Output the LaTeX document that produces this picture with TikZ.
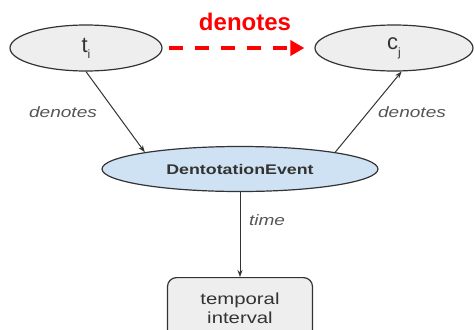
\documentclass[tikz,border=0pt]{standalone}
\usepackage{fontspec}
\setmainfont{Liberation Sans}
\usetikzlibrary{shapes.geometric,arrows.meta}
\definecolor{inkgrey}{HTML}{333333}
\definecolor{labelgrey}{HTML}{555555}
\definecolor{nodegrey}{HTML}{EEEEEE}
\definecolor{eventblue}{HTML}{CFE2F3}
\newcommand{\wide}[1]{\scalebox{1.27}[1]{#1}}
\begin{document}
\begin{tikzpicture}[x=1pt,y=-1pt,
  concept/.style={ellipse,draw=inkgrey,line width=1.2pt,fill=nodegrey,inner sep=0pt,text=inkgrey},
  rel/.style={draw=inkgrey,line width=1pt,-{Stealth[length=7pt,width=5pt]}},
  rellabel/.style={text=labelgrey,font=\fontsize{15}{17}\selectfont\itshape},
  bigarrow/.style={draw=red,line width=3.5pt,dash pattern=on 14pt off 12pt,-{Triangle[length=14pt,width=15pt]}}]
  \useasboundingbox (0,0) rectangle (475,330);

  % concept nodes
  \node[concept,minimum width=152pt,minimum height=46pt] (ti) at (86,48)
    {{\fontsize{22}{24}\selectfont t}\raisebox{-6pt}{\fontsize{12}{12}\selectfont i}};
  \node[concept,minimum width=158pt,minimum height=46pt] (cj) at (394,48)
    {{\fontsize{22}{24}\selectfont c}\raisebox{-7pt}{\fontsize{12}{12}\selectfont j}};
  \node[concept,fill=eventblue,minimum width=276pt,minimum height=45pt] (ev) at (240,169)
    {\wide{\fontsize{14}{16}\selectfont\bfseries DentotationEvent}};
  \node[draw=inkgrey,line width=1.2pt,fill=nodegrey,rounded corners=9pt,
        minimum width=145pt,minimum height=62pt,anchor=north,text=inkgrey,
        align=center,font=\fontsize{16}{19}\selectfont] (ti2) at (240,277)
    {\wide{temporal}\\\wide{interval}};

  % relations
  \draw[rel] (ti.south) -- (ev.170);
  \draw[rel] (ev.10) -- (cj.-72);
  \draw[rel] (ev.south) -- (ti2.north);

  \node[rellabel] (l1) at (63,112) {\wide{denotes}};
  \node[rellabel] (l2) at (412,112) {\wide{denotes}};
  \node[rellabel] (l3) at (267,220) {\wide{time}};

  % direct denotation shortcut
  \draw[bigarrow,shorten <=6pt,shorten >=10pt] (ti.east) -- (cj.west);
  \node[text=red,font=\fontsize{24}{26}\selectfont\bfseries] (dl) at (245,22) {denotes};
\end{tikzpicture}
\end{document}
